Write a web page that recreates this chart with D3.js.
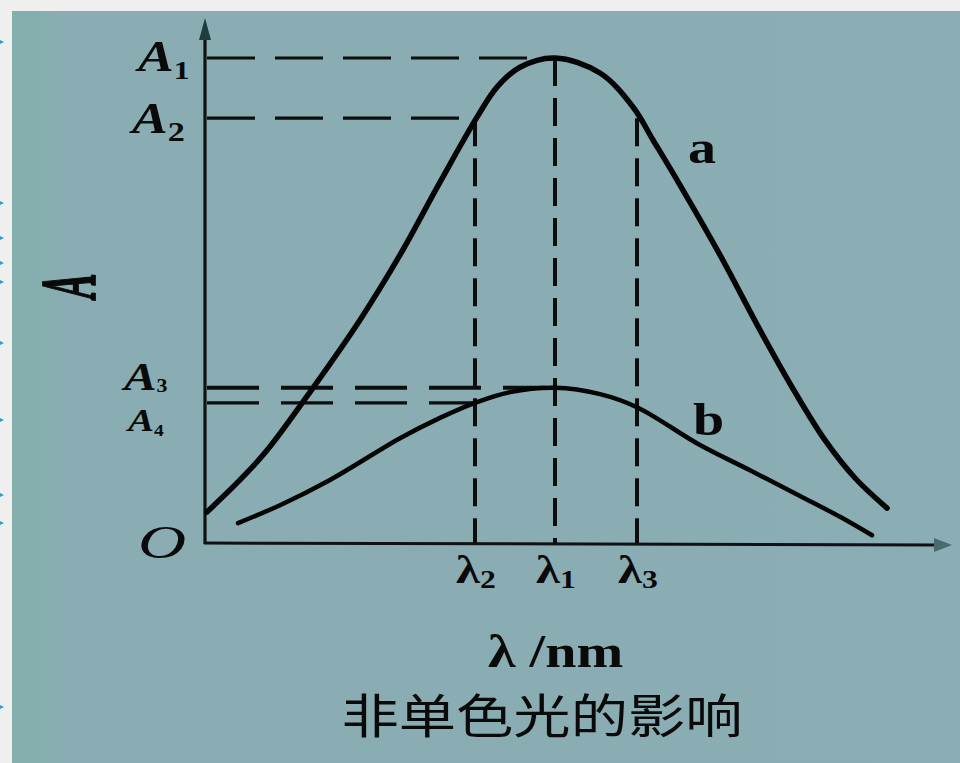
<!DOCTYPE html>
<html>
<head>
<meta charset="utf-8">
<script src="https://cdn.jsdelivr.net/npm/d3@7"></script>
<style>
  html, body { margin: 0; padding: 0; background: #efefef; }
  svg { display: block; }
</style>
</head>
<body>
<svg id="chart" width="960" height="763"></svg>
<script>
// Absorbance spectra: curve a (strong band) and curve b (weak band), wavelength in nm
const wavelengthA = [401, 417.5, 431, 454, 477.5, 497.5, 517.5, 536, 546, 557.5, 575, 597.5, 614, 624, 637.5, 657.5, 677.5, 695, 710, 725, 741];
const absorbanceA = [0.064, 0.130, 0.191, 0.320, 0.460, 0.594, 0.744, 0.878, 0.940, 0.981, 1.0, 0.969, 0.899, 0.831, 0.738, 0.594, 0.439, 0.311, 0.212, 0.134, 0.072];

const wavelengthB = [416.5, 437.5, 462.5, 497.5, 517.5, 535, 552.5, 575, 597.5, 616, 647.5, 672.5, 697.5, 717.5, 733.5];
const absorbanceB = [0.041, 0.078, 0.130, 0.216, 0.258, 0.289, 0.311, 0.320, 0.307, 0.280, 0.202, 0.150, 0.097, 0.054, 0.016];

// Marked wavelengths (λ2, λ1, λ3) and absorbance levels (A1..A4)
const lambdaNames = ["λ", "λ", "λ"];
const lambdaSubs = ["2", "1", "3"];
const lambdaValues = [535, 575, 616];
const lambdaTop = [0.876, 1.0, 0.876];

const levelNames = ["A", "A", "A", "A"];
const levelSubs = ["1", "2", "3", "4"];
const levelValues = [1.0, 0.876, 0.320, 0.289];
const levelEnds = [575, 535, 570, 535];

const curveNames = ["a", "b"];
const xAxisTitle = ["λ", " /nm"];
const yAxisTitle = "A";
const originLabel = "O";
const chartTitle = "非单色光的影响";
const sideMarks = [42, 203, 238, 263, 282, 343, 420, 495, 523, 707];

const svg = d3.select("#chart");
const W = 960, H = 763;

// page frame and teal panel
const defs = svg.append("defs");
const grad = defs.append("linearGradient").attr("id", "panelGrad")
  .attr("x1", "0").attr("x2", "1").attr("y1", "0").attr("y2", "0");
grad.append("stop").attr("offset", "0").attr("stop-color", "#83afac");
grad.append("stop").attr("offset", "0.06").attr("stop-color", "#89adb3");
grad.append("stop").attr("offset", "1").attr("stop-color", "#8badb5");

svg.append("rect").attr("width", W).attr("height", H).attr("fill", "#efefef");
svg.append("rect").attr("x", 12).attr("y", 11).attr("width", W - 12).attr("height", H - 11)
  .attr("fill", "url(#panelGrad)");

// small bullet remnants on the left page edge
svg.append("g").selectAll("path").data(sideMarks).join("path")
  .attr("d", d => `M0,${d - 2} L4,${d} L0,${d + 2} Z`)
  .attr("fill", "#2b9bd3");

const x = d3.scaleLinear().domain([400, 770]).range([205, 945]);
const y = d3.scaleLinear().domain([0, 1]).range([543, 58]);

const serif = "'Liberation Serif', 'DejaVu Serif', serif";
const stretch = 1.22;

// axes with arrowheads
const axisColor = "#111";
svg.append("line").attr("x1", x(400)).attr("x2", x(400))
  .attr("y1", y(0) + 1).attr("y2", 28)
  .attr("stroke", axisColor).attr("stroke-width", 3.2);
svg.append("path")
  .attr("d", `M${x(400)},18 L${x(400) - 6},40 L${x(400) + 6},40 Z`)
  .attr("fill", "#1f3c3e");
svg.append("line").attr("x1", x(400) - 1).attr("x2", 940)
  .attr("y1", y(0)).attr("y2", y(0) + 2)
  .attr("stroke", axisColor).attr("stroke-width", 3);
svg.append("path")
  .attr("d", `M952,${y(0) + 2} L934,${y(0) - 5} L934,${y(0) + 9} Z`)
  .attr("fill", "#4c6a6e");

// dashed guide lines
const guides = svg.append("g").attr("stroke", "#0d0d0d").attr("fill", "none");
guides.selectAll("line.h").data(levelValues).join("line")
  .attr("class", "h")
  .attr("x1", x(400) + 2).attr("x2", (d, i) => x(levelEnds[i]))
  .attr("y1", d => y(d)).attr("y2", d => y(d))
  .attr("stroke-width", (d, i) => i === 2 ? 4 : 3.2)
  .attr("stroke-dasharray", (d, i) => i < 2 ? "48,20" : "52,22");
guides.selectAll("line.v").data(lambdaValues).join("line")
  .attr("class", "v")
  .attr("x1", d => x(d)).attr("x2", d => x(d))
  .attr("y1", (d, i) => y(lambdaTop[i])).attr("y2", y(0))
  .attr("stroke-width", 4)
  .attr("stroke-dasharray", "28,12");

// spectral curves
const line = d3.line()
  .x(d => x(d[0])).y(d => y(d[1]))
  .curve(d3.curveCatmullRom.alpha(0.5));
const curveA = wavelengthA.map((w, i) => [w, absorbanceA[i]]);
const curveB = wavelengthB.map((w, i) => [w, absorbanceB[i]]);

svg.append("path").datum(curveA).attr("d", line)
  .attr("fill", "none").attr("stroke", "#050505")
  .attr("stroke-width", 5.5).attr("stroke-linecap", "round").attr("stroke-linejoin", "round");
svg.append("path").datum(curveB).attr("d", line)
  .attr("fill", "none").attr("stroke", "#050505")
  .attr("stroke-width", 4.5).attr("stroke-linecap", "round").attr("stroke-linejoin", "round");

// text helper: horizontally widened serif glyphs
function label(px, py, main, sub, size, subSize, opts = {}) {
  const t = svg.append("text")
    .attr("transform", `translate(${px},${py}) scale(${opts.sx || stretch},${opts.sy || 1})`)
    .attr("font-family", opts.family || serif)
    .attr("font-size", size)
    .attr("font-weight", opts.weight || "bold")
    .attr("font-style", opts.italic ? "italic" : "normal")
    .attr("text-anchor", opts.anchor || "start")
    .attr("fill", "#0a0a0a");
  t.append("tspan").text(main);
  if (sub) {
    t.append("tspan").attr("dy", opts.subDy || 8).attr("font-size", subSize)
      .attr("font-style", "normal").text(sub);
  }
  return t;
}

// absorbance level labels
const levelX = [138, 132, 124, 128];
const levelBase = [71, 133, 390, 431];
const levelSizes = [44, 44, 40, 32];
const levelSubSizes = [26, 28, 18, 16];
const levelSubDy = [8, 8, 2, 5];
levelValues.forEach((v, i) => {
  label(levelX[i], levelBase[i], levelNames[i], levelSubs[i], levelSizes[i], levelSubSizes[i],
    { italic: true, subDy: levelSubDy[i] });
});

// wavelength labels under the axis
lambdaValues.forEach((v, i) => {
  label(x(v) - 19, 583, lambdaNames[i], lambdaSubs[i], 40, 26, { subDy: 5 });
});

// origin
label(162, 558, originLabel, null, 46, 0, { italic: true, weight: "normal", anchor: "middle", sx: 1.45 });

// curve names
label(688, 163, curveNames[0], null, 46, 0);
label(693, 435, curveNames[1], null, 46, 0);

// axis titles
const xt = svg.append("text")
  .attr("transform", `translate(488,667) scale(${stretch},1)`)
  .attr("font-family", serif).attr("font-weight", "bold").attr("fill", "#0a0a0a");
xt.append("tspan").attr("font-size", 46).text(xAxisTitle[0]);
xt.append("tspan").attr("font-size", 46).text(xAxisTitle[1]);

svg.append("text")
  .attr("transform", "translate(94,286) rotate(-90) scale(0.72,1.5)")
  .attr("font-family", serif).attr("font-weight", "bold").attr("font-style", "italic")
  .attr("font-size", 52).attr("text-anchor", "middle").attr("fill", "#0a0a0a")
  .attr("stroke", "#0a0a0a").attr("stroke-width", 1.2)
  .text(yAxisTitle);

// chart title
svg.append("text")
  .attr("transform", `translate(542,733) scale(${stretch},1)`)
  .attr("font-family", "'Noto Sans CJK SC', 'Noto Sans CJK JP', sans-serif")
  .attr("font-size", 47).attr("text-anchor", "middle").attr("fill", "#0a0a0a")
  .text(chartTitle);
</script>
</body>
</html>
